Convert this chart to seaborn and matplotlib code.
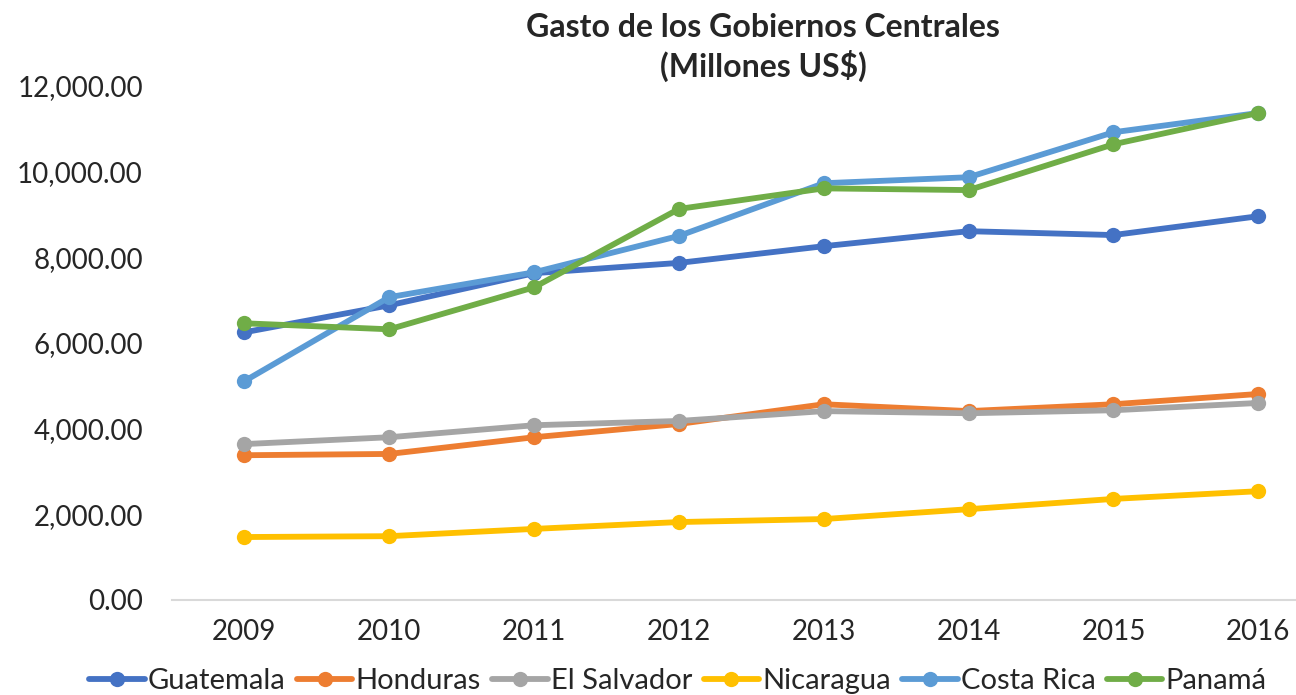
import pandas as pd
import seaborn as sns
import matplotlib.pyplot as plt

years = ['2009', '2010', '2011', '2012', '2013', '2014', '2015', '2016']
guatemala = [6250, 6880, 7630, 7870, 8260, 8610, 8520, 8960]
honduras = [3380, 3410, 3800, 4110, 4570, 4410, 4570, 4810]
el_salvador = [3640, 3800, 4080, 4180, 4410, 4360, 4430, 4600]
nicaragua = [1470, 1490, 1660, 1820, 1890, 2120, 2360, 2540]
costa_rica = [5110, 7070, 7650, 8500, 9730, 9870, 10920, 11370]
panama = [6460, 6320, 7300, 9130, 9610, 9570, 10640, 11370]

countries = ['Guatemala', 'Honduras', 'El Salvador', 'Nicaragua', 'Costa Rica', 'Panamá']
colors = ['#4472C4', '#ED7D31', '#A5A5A5', '#FFC000', '#5B9BD5', '#70AD47']
series = [guatemala, honduras, el_salvador, nicaragua, costa_rica, panama]

rows = []
for name, vals in zip(countries, series):
    for y, v in zip(years, vals):
        rows.append({'Año': y, 'Gasto': v, 'País': name})
df = pd.DataFrame(rows)

sns.set_style('white')
plt.rcParams['font.family'] = ['Lato', 'DejaVu Sans']

fig = plt.figure(figsize=(12.96, 6.95), dpi=100)
ax = fig.add_axes([172 / 1296, 95 / 695, 1 - 172 / 1296, 514 / 695])

sns.lineplot(data=df, x='Año', y='Gasto', hue='País', hue_order=countries,
             palette=colors, marker='o', markersize=11, markeredgewidth=0,
             linewidth=4.2, ax=ax, legend=True, sort=False)

ax.set_ylim(0, 12000)
ax.set_xlim(-0.5, 7.26)
ax.set_yticks(range(0, 12001, 2000))
ax.set_yticklabels([f'{v:,.2f}' for v in range(0, 12001, 2000)])
ax.tick_params(axis='both', labelsize=20, length=0)
ax.tick_params(axis='y', pad=21)
ax.tick_params(axis='x', pad=14)
ax.set_xlabel('')
ax.set_ylabel('')
for side in ['top', 'right', 'left']:
    ax.spines[side].set_visible(False)
ax.spines['bottom'].set_color('#d9d9d9')
ax.spines['bottom'].set_linewidth(1.5)

handles, labels = ax.get_legend_handles_labels()
ax.get_legend().remove()
fig.legend(handles, labels, loc='lower center', ncol=6, frameon=False,
           bbox_to_anchor=(0.523, -0.037), fontsize=21, handlelength=1.9,
           handletextpad=0.1, columnspacing=0.4)

fig.text(0.589, 0.982, 'Gasto de los Gobiernos Centrales\n(Millones US$)',
         ha='center', va='top', fontsize=23, fontweight='bold', linespacing=1.3)

fig.savefig('out.png', dpi=100)
